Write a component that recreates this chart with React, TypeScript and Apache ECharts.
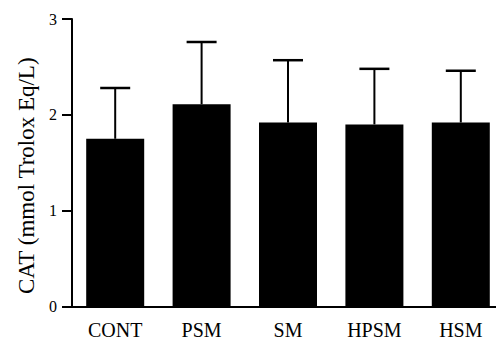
import React, { useEffect, useRef } from "react";
import * as echarts from "echarts";

const categories = ["CONT", "PSM", "SM", "HPSM", "HSM"];
const means = [1.75, 2.11, 1.92, 1.9, 1.92];
const upper = [2.28, 2.76, 2.57, 2.48, 2.46];
const yTicks = [0, 1, 2, 3];
const yTitle = "CAT (mmol Trolox Eq/L)";

const FONT = "'Liberation Serif', 'Times New Roman', serif";

export default function App() {
  const ref = useRef<HTMLDivElement>(null);
  useEffect(() => {
    if (!ref.current) return;
    const chart = echarts.init(ref.current, undefined, { renderer: "svg" });
    const errData = categories.map((_, i) => [i, means[i], upper[i]]);
    chart.setOption({
      animation: false,
      grid: {
        left: 72,
        top: 19,
        width: 432,
        height: 287.5,
        containLabel: false,
        outerBoundsMode: "none",
      },
      xAxis: {
        type: "category",
        data: categories,
        axisLine: { lineStyle: { color: "#000", width: 2 } },
        axisTick: { alignWithLabel: true, length: 5, lineStyle: { color: "#000", width: 2 } },
        axisLabel: { color: "#000", fontFamily: FONT, fontSize: 20, margin: 13 },
        splitLine: { show: false },
      },
      yAxis: {
        type: "value",
        min: yTicks[0],
        max: yTicks[yTicks.length - 1],
        interval: 1,
        name: yTitle,
        nameLocation: "middle",
        nameGap: 34,
        nameTextStyle: { color: "#000", fontFamily: FONT, fontSize: 23, padding: [0, 26, 0, 0] },
        axisLine: { show: true, lineStyle: { color: "#000", width: 2 } },
        axisTick: { show: true, inside: false, length: 10, lineStyle: { color: "#000", width: 2 } },
        axisLabel: { color: "#000", fontFamily: FONT, fontSize: 16, margin: 15 },
        splitLine: { show: false },
      },
      series: [
        {
          type: "bar",
          data: means,
          barWidth: 58,
          itemStyle: { color: "#000" },
          z: 2,
        },
        {
          type: "custom",
          data: errData,
          z: 3,
          renderItem: (params: any, api: any) => {
            const x = api.value(0);
            const top = api.coord([x, api.value(2)]);
            const base = api.coord([x, api.value(1)]);
            const half = 15;
            return {
              type: "group",
              children: [
                {
                  type: "line",
                  shape: { x1: top[0], y1: top[1], x2: base[0], y2: base[1] },
                  style: { stroke: "#000", lineWidth: 2 },
                },
                {
                  type: "line",
                  shape: { x1: top[0] - half, y1: top[1], x2: top[0] + half, y2: top[1] },
                  style: { stroke: "#000", lineWidth: 2.5 },
                },
              ],
            };
          },
        },
      ],
    });
    return () => chart.dispose();
  }, []);
  return (
    <div
      ref={ref}
      style={{ position: "fixed", left: 0, top: 0, width: 496, height: 342, background: "#fff" }}
    />
  );
}
